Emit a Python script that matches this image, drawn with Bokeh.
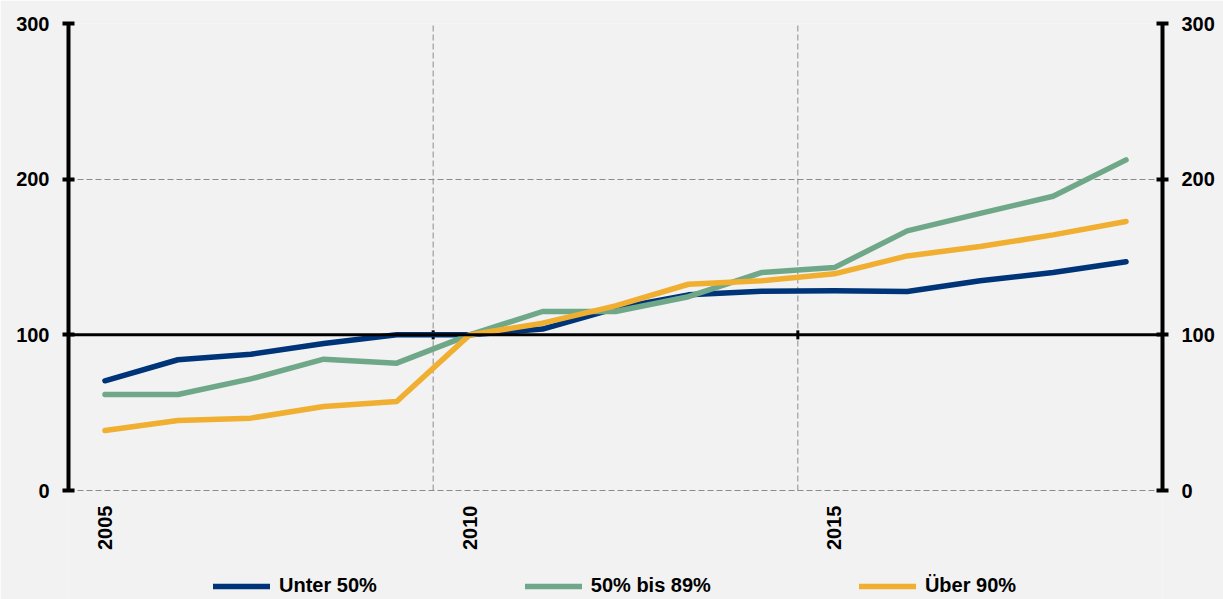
import math
from bokeh.plotting import figure
from bokeh.models import (LinearAxis, FixedTicker, Span, Legend, LegendItem,
                          Range1d, ColumnDataSource)
from bokeh.embed import file_html
from bokeh.resources import INLINE

years = list(range(2005, 2020))
unter_50 = [70.5, 84, 87.5, 94.5, 100, 100, 103.7, 117, 125.7, 128, 128.3, 127.8, 134.7, 140, 147]
bis_89 = [61.7, 61.7, 71.7, 84.4, 81.8, 100, 115, 115, 124.5, 140, 143.2, 166.8, 178, 189, 212.4]
ueber_90 = [38.5, 45, 46.5, 54, 57.2, 100, 107.5, 118.6, 132.5, 134.7, 139.2, 150.7, 156.7, 164.2, 172.8]
series_names = ["Unter 50%", "50% bis 89%", "Über 90%"]
series_colors = ["#003479", "#6fa888", "#f0af30"]
x_label_ticks = [2005, 2010, 2015]
y_ticks = [0, 100, 200, 300]
category_breaks = [2009.5, 2014.5]

FONT = "Liberation Sans"
BG = "#f2f2f2"

# frame extends below the value axis to hold the year labels and the legend
p = figure(frame_width=1094, frame_height=576, output_backend="svg", toolbar_location=None,
           x_range=Range1d(2004.5, 2019.5), y_range=Range1d(-70, 300),
           min_border_left=68, min_border_right=61, min_border_top=23,
           min_border_bottom=0, background_fill_color=BG,
           border_fill_color=BG, outline_line_color=None)
p.xaxis.visible = False
p.yaxis.visible = False
p.xgrid.visible = False

# horizontal grid
p.ygrid.ticker = FixedTicker(ticks=y_ticks)
p.ygrid.grid_line_color = "#8c8c8c"
p.ygrid.grid_line_dash = "6 3"
p.ygrid.grid_line_width = 1

# vertical dashed separators between year groups, limited to the value range
p.segment(x0=category_breaks, y0=[y_ticks[0]] * len(category_breaks),
          x1=category_breaks, y1=[y_ticks[-1]] * len(category_breaks),
          line_color="#8c8c8c", line_dash="6 3", line_width=1)

# x axis (labels only), pinned at y = 0
xa = LinearAxis(ticker=FixedTicker(ticks=x_label_ticks), fixed_location=0)
xa.axis_line_color = None
xa.major_tick_line_color = None
xa.minor_tick_line_color = None
xa.major_label_orientation = math.pi / 2
xa.major_label_text_font = FONT
xa.major_label_text_font_style = "bold"
xa.major_label_text_font_size = "20px"
xa.major_label_text_color = "#000000"
xa.major_label_standoff = 9
p.add_layout(xa, "below")

for side in ("left", "right"):
    ya = LinearAxis(ticker=FixedTicker(ticks=y_ticks), bounds=(0, 300))
    ya.axis_line_width = 4
    ya.axis_line_color = "#000000"
    ya.major_tick_line_width = 4
    ya.major_tick_line_color = "#000000"
    ya.major_tick_in = 6
    ya.major_tick_out = 6
    ya.minor_tick_line_color = None
    ya.major_label_text_font = FONT
    ya.major_label_text_font_style = "bold"
    ya.major_label_text_font_size = "20px"
    ya.major_label_text_color = "#000000"
    ya.major_label_standoff = 13
    p.add_layout(ya, side)

# baseline at 100
p.add_layout(Span(location=100, dimension="width", line_color="#000000", line_width=3))
p.scatter(x=category_breaks, y=[100] * len(category_breaks), marker="dash",
          angle=math.pi / 2, size=9, line_color="#000000", line_width=3)

items = []
for name, vals, col in zip(series_names, [unter_50, bis_89, ueber_90], series_colors):
    src = ColumnDataSource(dict(x=years, y=vals))
    r = p.line("x", "y", source=src, line_color=col, line_width=5.5,
               line_cap="round", line_join="round")
    items.append(LegendItem(label=name, renderers=[r]))

legend = Legend(items=items, orientation="horizontal", location=(145, 2),
                background_fill_alpha=0, border_line_color=None,
                label_text_font=FONT, label_text_font_style="bold",
                label_text_font_size="20px", label_text_color="#000000",
                glyph_width=57, glyph_height=20, label_standoff=9,
                spacing=148, padding=0, margin=0)
p.add_layout(legend, "center")

open("out.html", "w").write(file_html(p, INLINE))
